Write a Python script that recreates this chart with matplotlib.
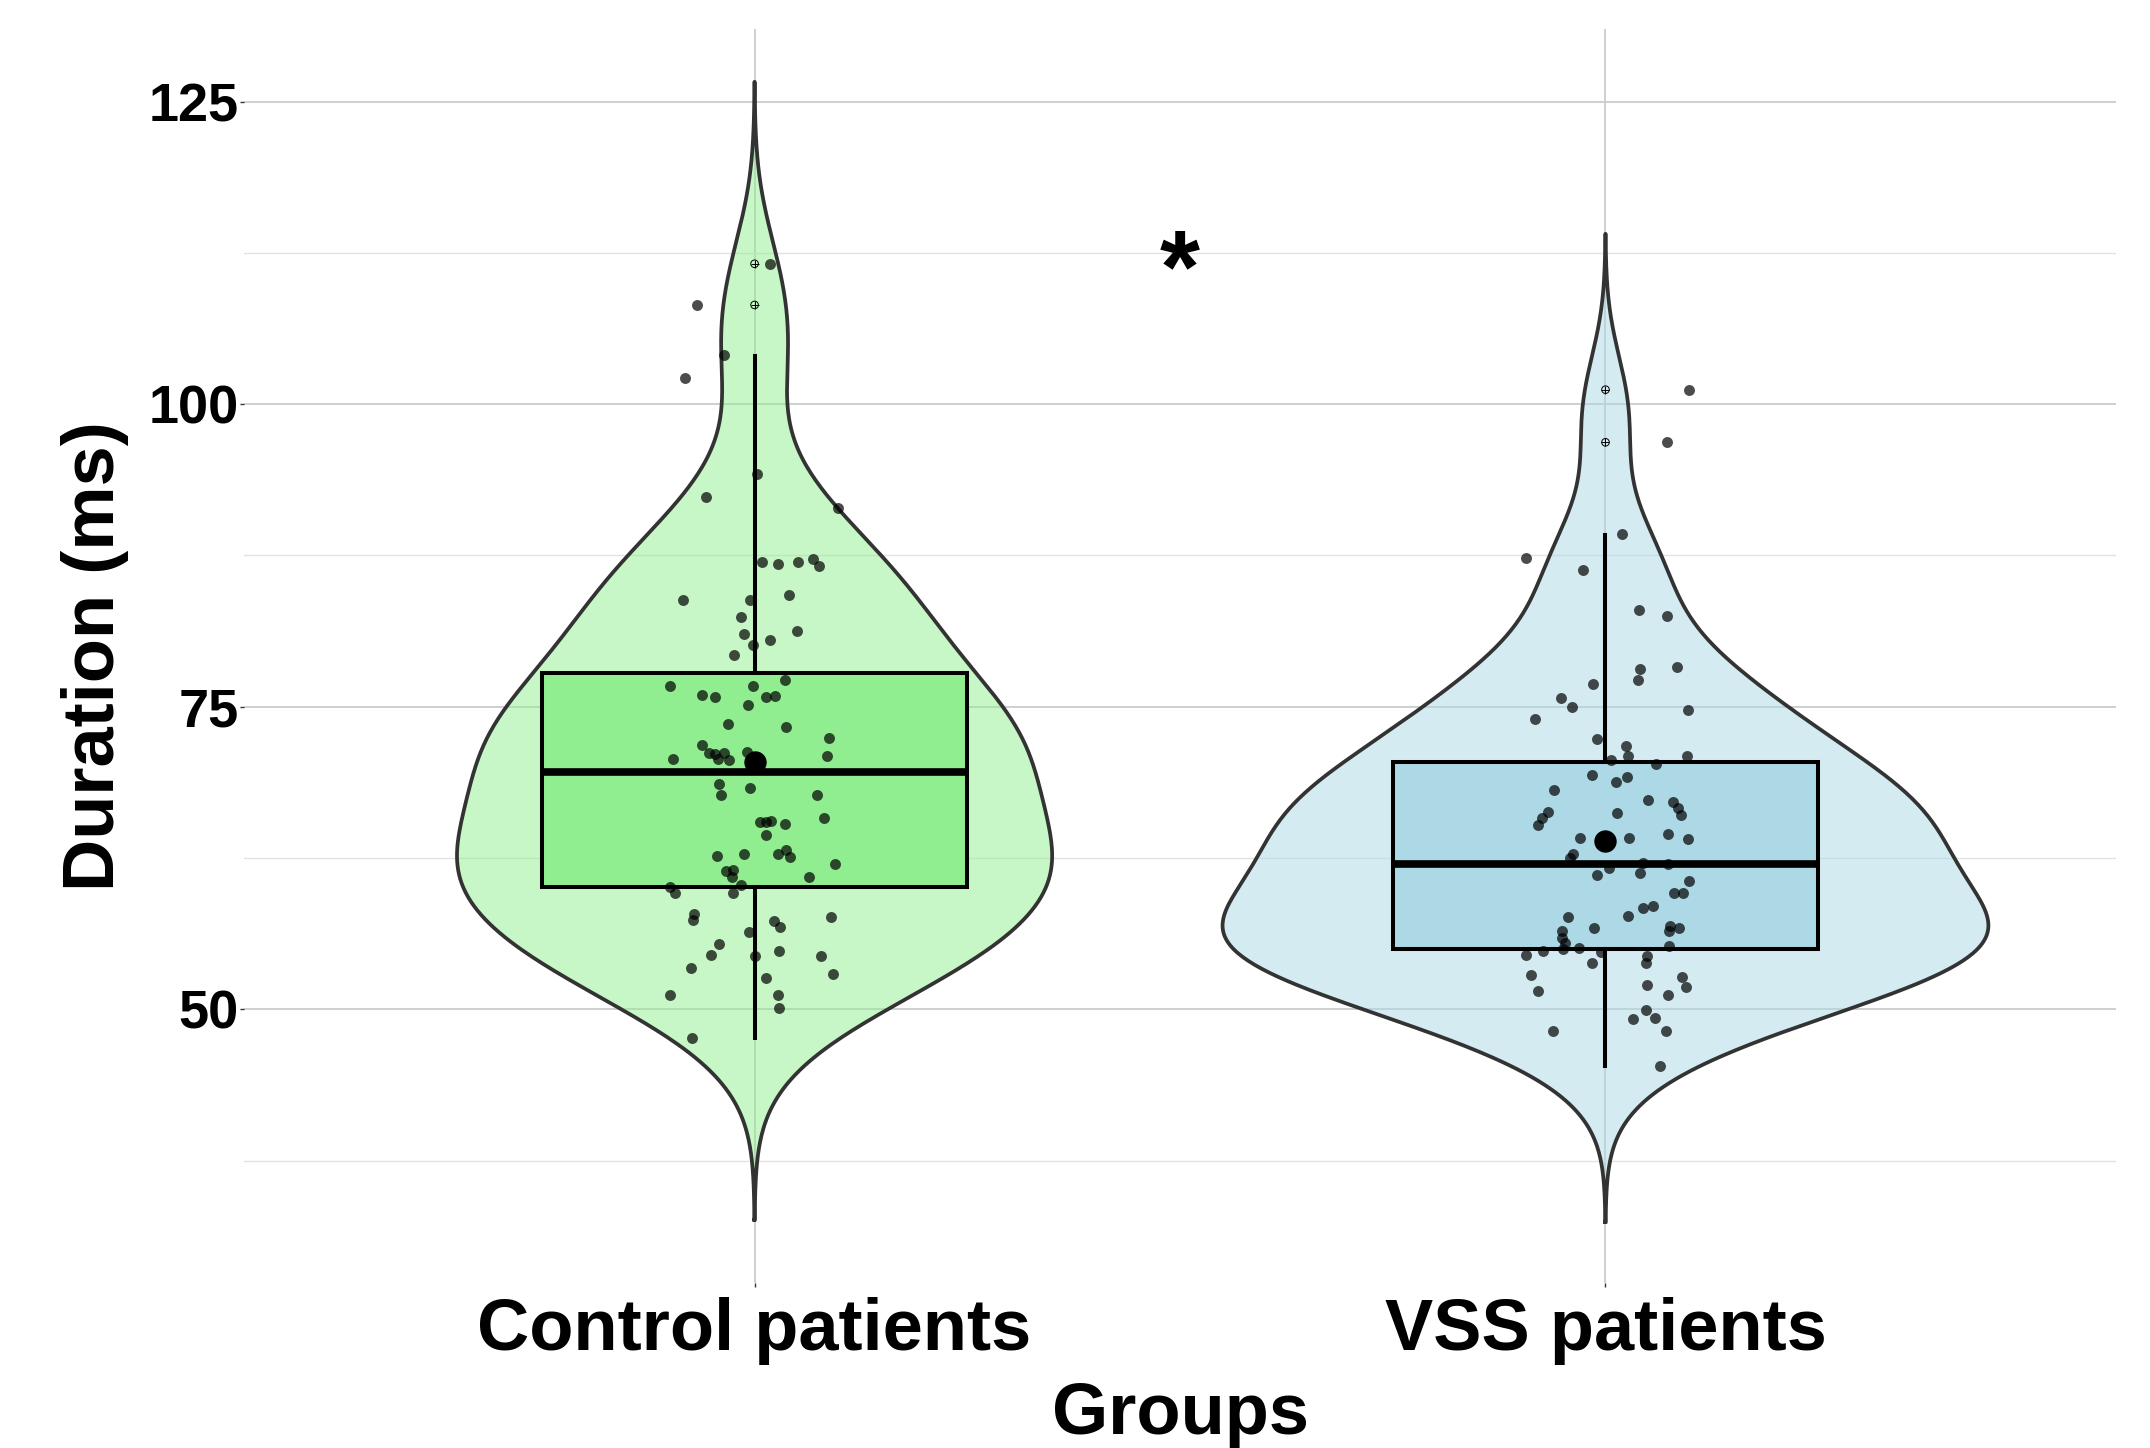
"""Violin + box + jitter plot: response duration by group."""

import matplotlib

matplotlib.use("Agg")
import matplotlib.pyplot as plt
import numpy as np

plt.rcParams["font.family"] = ["Liberation Sans", "DejaVu Sans"]
plt.rcParams["font.weight"] = "bold"

groups = ["Control patients", "VSS patients"]
box_fill = ["#90EE90", "#ADD8E6"]

# jittered observations (value, horizontal jitter offset)
ctrl_y = [111.6, 108.2, 104.1, 102.2, 94.2, 92.3, 91.4, 87.0, 86.8, 87.0,
          87.2, 86.6, 83.8, 83.8, 84.2, 82.4, 81.0, 80.5, 81.3, 80.1,
          79.3, 77.2, 76.7, 76.7, 76.0, 75.8, 75.8, 75.9, 75.15, 73.6,
          73.3, 72.4, 71.85, 71.2, 71.1, 71.2, 70.7, 70.6, 71.3, 70.7,
          70.9, 68.6, 68.3, 67.7, 67.7, 65.85, 65.5, 65.5, 65.6, 65.3,
          64.4, 62.7, 62.8, 62.8, 63.2, 62.6, 62.0, 61.4, 61.5, 60.9,
          60.95, 60.3, 60.1, 59.6, 59.6, 57.9, 57.4, 57.6, 57.3, 56.8,
          56.4, 55.4, 54.5, 54.4, 54.8, 54.4, 53.4, 52.9, 52.6, 51.2,
          51.2, 50.1, 47.65]
ctrl_dx = [0.018, -0.068, -0.036, -0.082, 0.003, -0.057, 0.098, 0.009, 0.027, 0.051,
           0.069, 0.076, -0.084, -0.005, 0.040, -0.016, -0.013, 0.018, 0.050, -0.002,
           -0.024, 0.036, -0.099, -0.002, -0.062, -0.046, 0.014, 0.024, -0.008, -0.031,
           0.037, 0.087, -0.062, -0.053, -0.046, -0.036, -0.043, -0.030, -0.009, -0.096,
           0.085, -0.042, -0.005, -0.040, 0.073, 0.082, 0.006, 0.014, 0.019, 0.036,
           0.014, -0.044, -0.013, 0.028, 0.037, 0.042, 0.095, -0.034, -0.025, -0.026,
           0.064, -0.016, -0.099, -0.093, -0.025, -0.071, -0.072, 0.090, 0.023, 0.030,
           -0.007, -0.042, -0.051, 0.000, 0.029, 0.078, -0.075, 0.092, 0.014, -0.099,
           0.027, 0.029, -0.073]

vss_y = [101.2, 96.85, 89.3, 87.3, 86.3, 83.0, 82.5, 78.1, 77.25, 78.3,
         76.9, 75.7, 74.95, 73.97, 74.7, 72.3, 71.8, 70.9, 70.6, 70.9,
         70.3, 69.4, 69.2, 68.8, 68.1, 67.3, 67.1, 66.6, 66.1, 66.3,
         65.8, 65.2, 66.2, 64.15, 64.15, 64.45, 64.1, 62.85, 62.5, 62.1,
         62.0, 61.65, 61.07, 61.25, 60.63, 59.6, 59.6, 58.4, 58.5, 57.66,
         57.7, 56.75, 56.45, 55.87, 55.46, 56.9, 56.75, 56.5, 55.24, 55.05,
         54.95, 54.84, 54.52, 54.7, 53.86, 54.4, 53.8, 52.87, 52.7, 51.88,
         51.99, 51.5, 51.2, 49.93, 49.19, 49.27, 48.23, 48.2, 45.3]
vss_dx = [0.098, 0.072, 0.019, -0.093, -0.027, 0.039, 0.072, 0.041, 0.038, 0.084,
          -0.015, -0.052, -0.039, -0.083, 0.097, -0.010, 0.024, 0.026, 0.006, 0.096,
          0.059, -0.016, 0.025, 0.012, -0.060, 0.050, 0.079, 0.085, 0.089, -0.067,
          -0.075, -0.079, 0.013, -0.030, 0.028, 0.073, 0.097, -0.038, -0.042, 0.044,
          0.073, 0.004, -0.010, 0.040, 0.098, 0.080, 0.091, 0.044, 0.056, -0.044,
          0.026, -0.014, -0.051, -0.051, -0.048, 0.076, 0.086, 0.075, 0.075, -0.031,
          -0.050, -0.073, -0.093, -0.005, -0.016, 0.049, 0.048, -0.088, 0.090, 0.095,
          0.049, -0.079, 0.074, 0.048, 0.032, 0.058, 0.071, -0.062, 0.064]

# box summaries as drawn (whisker low, Q1, median, Q3, whisker high)
ctrl_box = [47.6, 60.1, 69.6, 77.8, 104.0]
vss_box = [45.3, 55.0, 62.0, 70.4, 89.2]
group_means = [70.4, 63.9]
ctrl_outliers = [111.6, 108.2]
vss_outliers = [101.2, 96.85]

y_ticks = [50, 75, 100, 125]
y_minor = [37.5, 62.5, 87.5, 112.5]


def nrd0(v):
    q75, q25 = np.percentile(v, [75, 25])
    lo = min(np.std(v, ddof=1), (q75 - q25) / 1.34)
    return 0.9 * lo * len(v) ** -0.2


def kde(v, n=512):
    v = np.asarray(v)
    bw = nrd0(v)
    grid = np.linspace(v.min() - 3 * bw, v.max() + 3 * bw, n)
    d = np.exp(-0.5 * ((grid[:, None] - v[None, :]) / bw) ** 2).sum(axis=1)
    d /= len(v) * bw * np.sqrt(2 * np.pi)
    return grid, d


fig = plt.figure(figsize=(21.5, 14.48), dpi=100)
ax = fig.add_axes([0.1135, 0.1140, 0.8707, 0.8660])

data_y = [ctrl_y, vss_y]
data_dx = [ctrl_dx, vss_dx]
boxes = [ctrl_box, vss_box]
outliers = [ctrl_outliers, vss_outliers]

dens = [kde(v) for v in data_y]
dmax = max(d.max() for _, d in dens)

for i, (grid, d) in enumerate(dens):
    xc = i + 1
    hw = 0.45 * d / dmax
    ax.fill_betweenx(grid, xc - hw, xc + hw, facecolor=box_fill[i], alpha=0.5,
                     edgecolor="none", zorder=2)
    ax.plot(np.r_[xc - hw, (xc + hw)[::-1], xc - hw[0]],
            np.r_[grid, grid[::-1], grid[0]], color="#333333", lw=2.7, zorder=3)

stats = []
for b in boxes:
    stats.append({"whislo": b[0], "q1": b[1], "med": b[2], "q3": b[3], "whishi": b[4],
                  "fliers": []})
bp = ax.bxp(stats, positions=[1, 2], widths=0.5, patch_artist=True, showcaps=False,
            showfliers=False, manage_ticks=False,
            boxprops=dict(edgecolor="black", linewidth=2.9),
            medianprops=dict(color="black", linewidth=5.5, solid_capstyle="butt"),
            whiskerprops=dict(color="black", linewidth=2.9))
for patch, col in zip(bp["boxes"], box_fill):
    patch.set_facecolor(col)
    patch.set_zorder(4)
for line in bp["medians"] + bp["whiskers"]:
    line.set_zorder(4)

for i in range(2):
    xc = i + 1
    ax.scatter(xc + np.asarray(data_dx[i]), data_y[i], s=62, color="black", alpha=0.7,
               linewidths=0, zorder=5)
    ax.scatter([xc] * len(outliers[i]), outliers[i], s=30, facecolors="none",
               edgecolors="black", linewidths=0.7, zorder=6)
    ax.scatter([xc] * len(outliers[i]), outliers[i], s=30, marker="+", color="black",
               linewidths=0.7, zorder=6)
    ax.scatter([xc], [group_means[i]], s=260, color="black", linewidths=0, zorder=7)

ax.text(1.5, 110.6, "*", ha="center", va="center", fontsize=74, fontweight="bold")

ax.set_xlim(0.4, 2.6)
ax.set_ylim(27.4, 131.0)
ax.set_xticks([1, 2])
ax.set_xticklabels(groups, fontsize=52, fontweight="bold")
ax.set_yticks(y_ticks)
ax.set_yticks(y_minor, minor=True)
ax.tick_params(axis="y", labelsize=39, length=3, width=1, color="#333333", pad=1)
ax.tick_params(axis="x", length=3, width=1, color="#333333", pad=7)
ax.tick_params(axis="y", which="minor", length=0)
ax.grid(True, which="major", color="#cccccc", lw=1.3, zorder=0)
ax.grid(True, which="minor", axis="y", color="#e2e2e2", lw=1.0, zorder=0)
ax.set_axisbelow(True)
for s in ax.spines.values():
    s.set_visible(False)

ax.set_xlabel("Groups", fontsize=52, fontweight="bold", labelpad=12)
ax.set_ylabel("Duration (ms)", fontsize=52, fontweight="bold", labelpad=14)

fig.savefig("out.png", dpi=100)
plt.close(fig)
